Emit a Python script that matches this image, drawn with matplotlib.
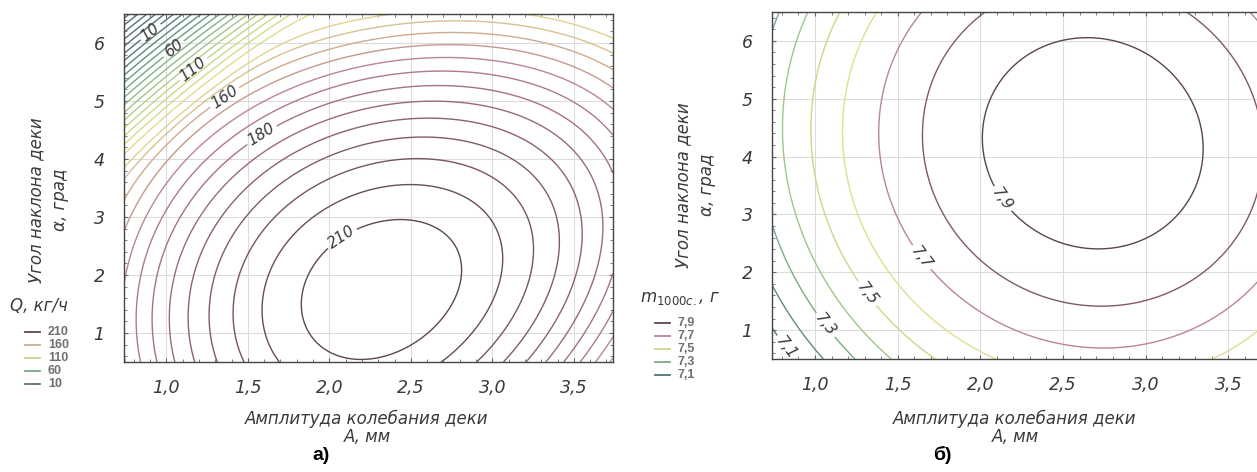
import numpy as np
import matplotlib
matplotlib.use("Agg")
import matplotlib.pyplot as plt
from matplotlib.colors import LinearSegmentedColormap, Normalize
from matplotlib.lines import Line2D

# ---------------- data ----------------
amp_range = [0.74, 3.74]          # A, mm
ang_range = [0.5, 6.5]            # alpha, deg
amp_ticks = [1.0, 1.5, 2.0, 2.5, 3.0, 3.5]
amp_ticklabels = ["1,0", "1,5", "2,0", "2,5", "3,0", "3,5"]
ang_ticks = [1, 2, 3, 4, 5, 6]

# left panel: Q, kg/h -- response surface
q_peak = 214.0                    # maximum of Q along the ridge
q_alpha0 = 1.75                   # alpha of the maximum
q_curv_alpha = 2.75               # fall-off along alpha
q_ridge = [2.24, 0.10]            # A of ridge at alpha=1, shift per degree
q_curv_A = [18.5, -1.16]          # fall-off along A at alpha=1, change/deg
q_corner = [58.0, 2.38, 2.20, 0.15]   # steep upper-left corner
q_levels = list(range(-40, 150, 10)) + list(range(150, 215, 5))
q_labels = [10, 60, 110, 160, 180, 210]
q_legend = [210, 160, 110, 60, 10]

# right panel: m1000, g -- quadratic response surface (canonical form)
m_peak = 7.9725
m_center = [2.68, 4.23]
m_curv = [0.163, 0.0218, -0.006]   # A^2, alpha^2, A*alpha
m_levels = [7.1, 7.2, 7.3, 7.4, 7.5, 7.6, 7.7, 7.8, 7.9]
m_labels = [7.1, 7.3, 7.5, 7.7, 7.9]
m_legend = [7.9, 7.7, 7.5, 7.3, 7.1]

# ---------------- styling ----------------
TICKF = dict(family='DejaVu Sans', style='oblique', fontsize=12.5,
             color='#3a3a3a')
cmap = LinearSegmentedColormap.from_list(
    "stat", [(0.0, "#55727a"), (0.14, "#5b9080"), (0.3, "#7fb585"),
             (0.5, "#c2d888"), (0.68, "#e6de8e"), (0.8, "#b9808e"),
             (0.9, "#8a5f6e"), (1.0, "#5a4450")])

W, H = 1257, 472
fig = plt.figure(figsize=(W / 100, H / 100), dpi=100)


def px_axes(l, t, r, b):
    return fig.add_axes([l / W, 1 - b / H, (r - l) / W, (b - t) / H])


def style_axes(ax):
    ax.set_xlim(*amp_range)
    ax.set_ylim(*ang_range)
    ax.set_xticks(amp_ticks)
    ax.set_xticklabels(amp_ticklabels, **TICKF)
    ax.set_yticks(ang_ticks)
    ax.set_yticklabels([str(t) for t in ang_ticks], **TICKF)
    ax.set_xticks(np.arange(0.8, 3.75, 0.1), minor=True)
    ax.set_yticks(np.arange(0.6, 6.5, 0.2), minor=True)
    ax.grid(True, which='major', color='#dcdcdc', lw=0.8)
    ax.tick_params(which='both', direction='in', top=True, right=True,
                   color='#666666')
    ax.tick_params(which='major', length=3, pad=12)
    ax.tick_params(axis='y', which='major', pad=14)
    ax.tick_params(which='minor', length=2)
    for s in ax.spines.values():
        s.set_color('#444444')
        s.set_linewidth(1.0)
    ax.set_axisbelow(True)


def draw_contours(ax, X, Y, Z, levels, labels, norm, fmt, positions):
    plain = [lv for lv in levels if lv not in labels]
    ax.contour(X, Y, Z, levels=plain, cmap=cmap, norm=norm, linewidths=1.0)
    for lv, pos in zip(labels, positions):
        cs = ax.contour(X, Y, Z, levels=[lv], colors=[cmap(norm(lv))],
                        linewidths=1.0)
        ax.clabel(cs, fmt=fmt, fontsize=11, inline=True, inline_spacing=3,
                  colors='#3a3a3a', manual=[pos])
        for t in cs.labelTexts:
            t.set_family('DejaVu Sans')
            t.set_style('oblique')


A = np.linspace(amp_range[0], amp_range[1], 500)
B = np.linspace(ang_range[0], ang_range[1], 500)
AA, BB = np.meshgrid(A, B)

# ---- left panel surface ----
ridge = q_ridge[0] + q_ridge[1] * (BB - 1.0)
curvA = q_curv_A[0] + q_curv_A[1] * (BB - 1.0)
u = (BB - q_corner[1] * AA - q_corner[2]) / q_corner[3]
Q = (q_peak - q_curv_alpha * (BB - q_alpha0) ** 2
     - curvA * (AA - ridge) ** 2
     - q_corner[0] * q_corner[3] * np.logaddexp(0.0, u))

ax1 = px_axes(124, 14, 613, 362)
style_axes(ax1)
qnorm = Normalize(10, 212, clip=True)
draw_contours(ax1, AA, BB, Q, q_levels, q_labels, qnorm,
              lambda v: f"{v:.0f}",
              [(0.9, 6.2), (1.05, 5.88), (1.17, 5.53), (1.33, 5.18),
               (1.64, 4.17), (2.05, 2.75)])

# ---- right panel ----
ax2 = px_axes(772, 12, 1268, 359)
style_axes(ax2)
dA = AA - m_center[0]
dB = BB - m_center[1]
M = m_peak - m_curv[0] * dA ** 2 - m_curv[1] * dB ** 2 + m_curv[2] * dA * dB
mnorm = Normalize(7.1, 7.86, clip=True)
draw_contours(ax2, AA, BB, M, m_levels, m_labels, mnorm,
              lambda v: f"{v:.1f}".replace('.', ','),
              [(0.9, 0.86), (1.11, 1.19), (1.26, 1.51), (1.53, 2.01),
               (2.04, 3.08)])

# ---- axis titles ----
LAB = dict(family='DejaVu Sans', style='oblique', fontsize=12,
           color='#3a3a3a', ha='center', va='center')
for cx in (367, 1015):
    fig.text(cx / W, 1 - 419 / H, "Амплитуда колебания деки", **LAB)
    fig.text(cx / W, 1 - 437 / H, "A, мм", **LAB)
for x1, x2, cy in ((36, 60, 200), (683, 707, 185)):
    fig.text(x1 / W, 1 - cy / H, "Угол наклона деки", rotation=90, **LAB)
    fig.text(x2 / W, 1 - cy / H, "α, град", rotation=90, **LAB)


# ---- legends ----
def legend_block(x0, ty, title, rows, values, norm, fmt):
    fig.text(x0 / W, 1 - ty / H, title, family='DejaVu Sans',
             style='oblique', fontsize=12, color='#3a3a3a', va='center')
    for yy_px, v in zip(rows, values):
        yy = 1 - yy_px / H
        fig.add_artist(Line2D([(x0 + 15) / W, (x0 + 30) / W], [yy, yy],
                              color=cmap(norm(v)), lw=1.3))
        fig.text((x0 + 38) / W, yy, fmt(v), fontsize=9, color='#707070',
                 va='center', family=['Liberation Sans', 'DejaVu Sans'],
                 weight='bold')


legend_block(10, 306, "Q, кг/ч", [332, 345, 358, 371, 384], q_legend,
             qnorm, lambda v: f"{v}")
legend_block(640, 298, r"$m_{1000c.}$, г", [323, 336, 349, 362, 375],
             m_legend, mnorm, lambda v: f"{v:.1f}".replace('.', ','))

fig.text(321 / W, 1 - 455 / H, "а)", fontsize=14, weight='bold',
         ha='center', va='center', family=['Liberation Sans', 'DejaVu Sans'])
fig.text(942 / W, 1 - 455 / H, "б)", fontsize=14, weight='bold',
         ha='center', va='center', family=['Liberation Sans', 'DejaVu Sans'])

fig.savefig("out.png", dpi=100)
